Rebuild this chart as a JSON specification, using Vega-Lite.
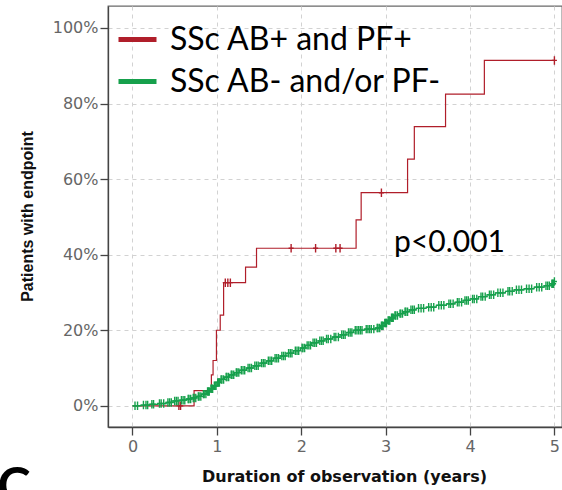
{
  "$schema": "https://vega.github.io/schema/vega-lite/v6.json",
  "width": 454,
  "height": 421,
  "autosize": {"type": "none"},
  "padding": {"left": 108, "top": 6, "right": 0, "bottom": 63},
  "background": "white",
  "config": {
    "view": {"stroke": "#6a6a6a", "strokeWidth": 1.3},
    "axis": {
      "grid": true, "gridColor": "#d2d2d2", "gridDash": [4, 4], "gridWidth": 1,
      "domainColor": "#444", "domainWidth": 1.3, "tickColor": "#444", "tickWidth": 1.3,
      "labelFont": "DejaVu Sans", "labelFontSize": 16, "labelColor": "#666",
      "titleFont": "Liberation Sans", "titleFontSize": 16, "titleFontWeight": "bold", "titleColor": "#111"
    }
  },
  "datasets": {
    "km": [
      {"group": "SSc AB+ and PF+", "years": 0, "pct": 0, "censored": 0},
      {"group": "SSc AB+ and PF+", "years": 0.55, "pct": 0, "censored": 1},
      {"group": "SSc AB+ and PF+", "years": 0.57, "pct": 0, "censored": 1},
      {"group": "SSc AB+ and PF+", "years": 0.73, "pct": 4.0, "censored": 0},
      {"group": "SSc AB+ and PF+", "years": 0.935, "pct": 8.2, "censored": 0},
      {"group": "SSc AB+ and PF+", "years": 0.955, "pct": 12.0, "censored": 0},
      {"group": "SSc AB+ and PF+", "years": 0.995, "pct": 20.0, "censored": 0},
      {"group": "SSc AB+ and PF+", "years": 1.04, "pct": 24.0, "censored": 0},
      {"group": "SSc AB+ and PF+", "years": 1.08, "pct": 32.6, "censored": 0},
      {"group": "SSc AB+ and PF+", "years": 1.10, "pct": 32.6, "censored": 1},
      {"group": "SSc AB+ and PF+", "years": 1.13, "pct": 32.6, "censored": 1},
      {"group": "SSc AB+ and PF+", "years": 1.16, "pct": 32.6, "censored": 1},
      {"group": "SSc AB+ and PF+", "years": 1.34, "pct": 36.7, "censored": 0},
      {"group": "SSc AB+ and PF+", "years": 1.47, "pct": 41.7, "censored": 0},
      {"group": "SSc AB+ and PF+", "years": 1.88, "pct": 41.7, "censored": 1},
      {"group": "SSc AB+ and PF+", "years": 2.17, "pct": 41.7, "censored": 1},
      {"group": "SSc AB+ and PF+", "years": 2.41, "pct": 41.7, "censored": 1},
      {"group": "SSc AB+ and PF+", "years": 2.46, "pct": 41.7, "censored": 1},
      {"group": "SSc AB+ and PF+", "years": 2.65, "pct": 49.2, "censored": 0},
      {"group": "SSc AB+ and PF+", "years": 2.71, "pct": 56.4, "censored": 0},
      {"group": "SSc AB+ and PF+", "years": 2.95, "pct": 56.4, "censored": 1},
      {"group": "SSc AB+ and PF+", "years": 3.26, "pct": 65.3, "censored": 0},
      {"group": "SSc AB+ and PF+", "years": 3.34, "pct": 73.9, "censored": 0},
      {"group": "SSc AB+ and PF+", "years": 3.71, "pct": 82.5, "censored": 0},
      {"group": "SSc AB+ and PF+", "years": 4.17, "pct": 91.4, "censored": 0},
      {"group": "SSc AB+ and PF+", "years": 5.0, "pct": 91.4, "censored": 1},

      {"group": "SSc AB- and/or PF-", "years": 0, "pct": 0, "censored": 0},
      {"group": "SSc AB- and/or PF-", "years": 0.03, "pct": 0, "censored": 1},
      {"group": "SSc AB- and/or PF-", "years": 0.06, "pct": 0, "censored": 1},
      {"group": "SSc AB- and/or PF-", "years": 0.10, "pct": 0.2, "censored": 0},
      {"group": "SSc AB- and/or PF-", "years": 0.13, "pct": 0.2, "censored": 1},
      {"group": "SSc AB- and/or PF-", "years": 0.16, "pct": 0.2, "censored": 1},
      {"group": "SSc AB- and/or PF-", "years": 0.18, "pct": 0.2, "censored": 1},
      {"group": "SSc AB- and/or PF-", "years": 0.20, "pct": 0.4, "censored": 0},
      {"group": "SSc AB- and/or PF-", "years": 0.23, "pct": 0.4, "censored": 1},
      {"group": "SSc AB- and/or PF-", "years": 0.25, "pct": 0.4, "censored": 1},
      {"group": "SSc AB- and/or PF-", "years": 0.30, "pct": 0.6, "censored": 0},
      {"group": "SSc AB- and/or PF-", "years": 0.32, "pct": 0.6, "censored": 1},
      {"group": "SSc AB- and/or PF-", "years": 0.34, "pct": 0.6, "censored": 1},
      {"group": "SSc AB- and/or PF-", "years": 0.37, "pct": 0.6, "censored": 1},
      {"group": "SSc AB- and/or PF-", "years": 0.40, "pct": 0.9, "censored": 0},
      {"group": "SSc AB- and/or PF-", "years": 0.42, "pct": 0.9, "censored": 1},
      {"group": "SSc AB- and/or PF-", "years": 0.44, "pct": 0.9, "censored": 1},
      {"group": "SSc AB- and/or PF-", "years": 0.46, "pct": 0.9, "censored": 1},
      {"group": "SSc AB- and/or PF-", "years": 0.48, "pct": 1.3, "censored": 0},
      {"group": "SSc AB- and/or PF-", "years": 0.50, "pct": 1.3, "censored": 1},
      {"group": "SSc AB- and/or PF-", "years": 0.52, "pct": 1.3, "censored": 1},
      {"group": "SSc AB- and/or PF-", "years": 0.54, "pct": 1.3, "censored": 1},
      {"group": "SSc AB- and/or PF-", "years": 0.56, "pct": 1.5, "censored": 0},
      {"group": "SSc AB- and/or PF-", "years": 0.58, "pct": 1.5, "censored": 1},
      {"group": "SSc AB- and/or PF-", "years": 0.60, "pct": 1.5, "censored": 1},
      {"group": "SSc AB- and/or PF-", "years": 0.62, "pct": 1.5, "censored": 1},
      {"group": "SSc AB- and/or PF-", "years": 0.64, "pct": 1.8, "censored": 0},
      {"group": "SSc AB- and/or PF-", "years": 0.66, "pct": 1.8, "censored": 1},
      {"group": "SSc AB- and/or PF-", "years": 0.67, "pct": 1.8, "censored": 1},
      {"group": "SSc AB- and/or PF-", "years": 0.69, "pct": 1.8, "censored": 1},
      {"group": "SSc AB- and/or PF-", "years": 0.70, "pct": 2.1, "censored": 0},
      {"group": "SSc AB- and/or PF-", "years": 0.72, "pct": 2.1, "censored": 1},
      {"group": "SSc AB- and/or PF-", "years": 0.73, "pct": 2.1, "censored": 1},
      {"group": "SSc AB- and/or PF-", "years": 0.75, "pct": 2.1, "censored": 1},
      {"group": "SSc AB- and/or PF-", "years": 0.76, "pct": 2.5, "censored": 0},
      {"group": "SSc AB- and/or PF-", "years": 0.78, "pct": 2.5, "censored": 1},
      {"group": "SSc AB- and/or PF-", "years": 0.79, "pct": 2.5, "censored": 1},
      {"group": "SSc AB- and/or PF-", "years": 0.81, "pct": 2.5, "censored": 1},
      {"group": "SSc AB- and/or PF-", "years": 0.82, "pct": 3.1, "censored": 0},
      {"group": "SSc AB- and/or PF-", "years": 0.84, "pct": 3.1, "censored": 1},
      {"group": "SSc AB- and/or PF-", "years": 0.85, "pct": 3.1, "censored": 1},
      {"group": "SSc AB- and/or PF-", "years": 0.87, "pct": 3.1, "censored": 1},
      {"group": "SSc AB- and/or PF-", "years": 0.88, "pct": 3.8, "censored": 0},
      {"group": "SSc AB- and/or PF-", "years": 0.89, "pct": 3.8, "censored": 1},
      {"group": "SSc AB- and/or PF-", "years": 0.90, "pct": 3.8, "censored": 1},
      {"group": "SSc AB- and/or PF-", "years": 0.91, "pct": 3.8, "censored": 1},
      {"group": "SSc AB- and/or PF-", "years": 0.92, "pct": 4.5, "censored": 0},
      {"group": "SSc AB- and/or PF-", "years": 0.93, "pct": 4.5, "censored": 1},
      {"group": "SSc AB- and/or PF-", "years": 0.94, "pct": 4.5, "censored": 1},
      {"group": "SSc AB- and/or PF-", "years": 0.95, "pct": 4.5, "censored": 1},
      {"group": "SSc AB- and/or PF-", "years": 0.96, "pct": 5.3, "censored": 0},
      {"group": "SSc AB- and/or PF-", "years": 0.97, "pct": 5.3, "censored": 1},
      {"group": "SSc AB- and/or PF-", "years": 0.98, "pct": 5.3, "censored": 1},
      {"group": "SSc AB- and/or PF-", "years": 0.99, "pct": 5.3, "censored": 1},
      {"group": "SSc AB- and/or PF-", "years": 1.00, "pct": 6.2, "censored": 0},
      {"group": "SSc AB- and/or PF-", "years": 1.01, "pct": 6.2, "censored": 1},
      {"group": "SSc AB- and/or PF-", "years": 1.02, "pct": 6.2, "censored": 1},
      {"group": "SSc AB- and/or PF-", "years": 1.03, "pct": 6.2, "censored": 1},
      {"group": "SSc AB- and/or PF-", "years": 1.04, "pct": 7.0, "censored": 0},
      {"group": "SSc AB- and/or PF-", "years": 1.05, "pct": 7.0, "censored": 1},
      {"group": "SSc AB- and/or PF-", "years": 1.06, "pct": 7.0, "censored": 1},
      {"group": "SSc AB- and/or PF-", "years": 1.08, "pct": 7.0, "censored": 1},
      {"group": "SSc AB- and/or PF-", "years": 1.09, "pct": 7.6, "censored": 0},
      {"group": "SSc AB- and/or PF-", "years": 1.11, "pct": 7.6, "censored": 1},
      {"group": "SSc AB- and/or PF-", "years": 1.12, "pct": 7.6, "censored": 1},
      {"group": "SSc AB- and/or PF-", "years": 1.14, "pct": 7.6, "censored": 1},
      {"group": "SSc AB- and/or PF-", "years": 1.15, "pct": 8.2, "censored": 0},
      {"group": "SSc AB- and/or PF-", "years": 1.17, "pct": 8.2, "censored": 1},
      {"group": "SSc AB- and/or PF-", "years": 1.18, "pct": 8.2, "censored": 1},
      {"group": "SSc AB- and/or PF-", "years": 1.20, "pct": 8.2, "censored": 1},
      {"group": "SSc AB- and/or PF-", "years": 1.21, "pct": 8.8, "censored": 0},
      {"group": "SSc AB- and/or PF-", "years": 1.23, "pct": 8.8, "censored": 1},
      {"group": "SSc AB- and/or PF-", "years": 1.24, "pct": 8.8, "censored": 1},
      {"group": "SSc AB- and/or PF-", "years": 1.26, "pct": 8.8, "censored": 1},
      {"group": "SSc AB- and/or PF-", "years": 1.27, "pct": 9.4, "censored": 0},
      {"group": "SSc AB- and/or PF-", "years": 1.29, "pct": 9.4, "censored": 1},
      {"group": "SSc AB- and/or PF-", "years": 1.31, "pct": 9.4, "censored": 1},
      {"group": "SSc AB- and/or PF-", "years": 1.33, "pct": 9.4, "censored": 1},
      {"group": "SSc AB- and/or PF-", "years": 1.35, "pct": 10.0, "censored": 0},
      {"group": "SSc AB- and/or PF-", "years": 1.37, "pct": 10.0, "censored": 1},
      {"group": "SSc AB- and/or PF-", "years": 1.39, "pct": 10.0, "censored": 1},
      {"group": "SSc AB- and/or PF-", "years": 1.41, "pct": 10.0, "censored": 1},
      {"group": "SSc AB- and/or PF-", "years": 1.43, "pct": 10.6, "censored": 0},
      {"group": "SSc AB- and/or PF-", "years": 1.45, "pct": 10.6, "censored": 1},
      {"group": "SSc AB- and/or PF-", "years": 1.47, "pct": 10.6, "censored": 1},
      {"group": "SSc AB- and/or PF-", "years": 1.49, "pct": 10.6, "censored": 1},
      {"group": "SSc AB- and/or PF-", "years": 1.51, "pct": 11.3, "censored": 0},
      {"group": "SSc AB- and/or PF-", "years": 1.53, "pct": 11.3, "censored": 1},
      {"group": "SSc AB- and/or PF-", "years": 1.55, "pct": 11.3, "censored": 1},
      {"group": "SSc AB- and/or PF-", "years": 1.57, "pct": 11.3, "censored": 1},
      {"group": "SSc AB- and/or PF-", "years": 1.59, "pct": 11.9, "censored": 0},
      {"group": "SSc AB- and/or PF-", "years": 1.61, "pct": 11.9, "censored": 1},
      {"group": "SSc AB- and/or PF-", "years": 1.63, "pct": 11.9, "censored": 1},
      {"group": "SSc AB- and/or PF-", "years": 1.65, "pct": 11.9, "censored": 1},
      {"group": "SSc AB- and/or PF-", "years": 1.67, "pct": 12.6, "censored": 0},
      {"group": "SSc AB- and/or PF-", "years": 1.69, "pct": 12.6, "censored": 1},
      {"group": "SSc AB- and/or PF-", "years": 1.71, "pct": 12.6, "censored": 1},
      {"group": "SSc AB- and/or PF-", "years": 1.73, "pct": 12.6, "censored": 1},
      {"group": "SSc AB- and/or PF-", "years": 1.75, "pct": 13.2, "censored": 0},
      {"group": "SSc AB- and/or PF-", "years": 1.77, "pct": 13.2, "censored": 1},
      {"group": "SSc AB- and/or PF-", "years": 1.79, "pct": 13.2, "censored": 1},
      {"group": "SSc AB- and/or PF-", "years": 1.81, "pct": 13.2, "censored": 1},
      {"group": "SSc AB- and/or PF-", "years": 1.83, "pct": 13.9, "censored": 0},
      {"group": "SSc AB- and/or PF-", "years": 1.85, "pct": 13.9, "censored": 1},
      {"group": "SSc AB- and/or PF-", "years": 1.87, "pct": 13.9, "censored": 1},
      {"group": "SSc AB- and/or PF-", "years": 1.89, "pct": 13.9, "censored": 1},
      {"group": "SSc AB- and/or PF-", "years": 1.91, "pct": 14.6, "censored": 0},
      {"group": "SSc AB- and/or PF-", "years": 1.93, "pct": 14.6, "censored": 1},
      {"group": "SSc AB- and/or PF-", "years": 1.95, "pct": 14.6, "censored": 1},
      {"group": "SSc AB- and/or PF-", "years": 1.97, "pct": 14.6, "censored": 1},
      {"group": "SSc AB- and/or PF-", "years": 1.99, "pct": 15.3, "censored": 0},
      {"group": "SSc AB- and/or PF-", "years": 2.01, "pct": 15.3, "censored": 1},
      {"group": "SSc AB- and/or PF-", "years": 2.02, "pct": 15.3, "censored": 1},
      {"group": "SSc AB- and/or PF-", "years": 2.04, "pct": 15.3, "censored": 1},
      {"group": "SSc AB- and/or PF-", "years": 2.05, "pct": 16.0, "censored": 0},
      {"group": "SSc AB- and/or PF-", "years": 2.07, "pct": 16.0, "censored": 1},
      {"group": "SSc AB- and/or PF-", "years": 2.09, "pct": 16.0, "censored": 1},
      {"group": "SSc AB- and/or PF-", "years": 2.11, "pct": 16.0, "censored": 1},
      {"group": "SSc AB- and/or PF-", "years": 2.12, "pct": 16.7, "censored": 0},
      {"group": "SSc AB- and/or PF-", "years": 2.14, "pct": 16.7, "censored": 1},
      {"group": "SSc AB- and/or PF-", "years": 2.16, "pct": 16.7, "censored": 1},
      {"group": "SSc AB- and/or PF-", "years": 2.18, "pct": 16.7, "censored": 1},
      {"group": "SSc AB- and/or PF-", "years": 2.20, "pct": 17.2, "censored": 0},
      {"group": "SSc AB- and/or PF-", "years": 2.22, "pct": 17.2, "censored": 1},
      {"group": "SSc AB- and/or PF-", "years": 2.24, "pct": 17.2, "censored": 1},
      {"group": "SSc AB- and/or PF-", "years": 2.26, "pct": 17.2, "censored": 1},
      {"group": "SSc AB- and/or PF-", "years": 2.28, "pct": 17.7, "censored": 0},
      {"group": "SSc AB- and/or PF-", "years": 2.30, "pct": 17.7, "censored": 1},
      {"group": "SSc AB- and/or PF-", "years": 2.32, "pct": 17.7, "censored": 1},
      {"group": "SSc AB- and/or PF-", "years": 2.35, "pct": 17.7, "censored": 1},
      {"group": "SSc AB- and/or PF-", "years": 2.37, "pct": 18.2, "censored": 0},
      {"group": "SSc AB- and/or PF-", "years": 2.39, "pct": 18.2, "censored": 1},
      {"group": "SSc AB- and/or PF-", "years": 2.41, "pct": 18.2, "censored": 1},
      {"group": "SSc AB- and/or PF-", "years": 2.44, "pct": 18.2, "censored": 1},
      {"group": "SSc AB- and/or PF-", "years": 2.46, "pct": 18.8, "censored": 0},
      {"group": "SSc AB- and/or PF-", "years": 2.48, "pct": 18.8, "censored": 1},
      {"group": "SSc AB- and/or PF-", "years": 2.50, "pct": 18.8, "censored": 1},
      {"group": "SSc AB- and/or PF-", "years": 2.52, "pct": 18.8, "censored": 1},
      {"group": "SSc AB- and/or PF-", "years": 2.54, "pct": 19.4, "censored": 0},
      {"group": "SSc AB- and/or PF-", "years": 2.56, "pct": 19.4, "censored": 1},
      {"group": "SSc AB- and/or PF-", "years": 2.58, "pct": 19.4, "censored": 1},
      {"group": "SSc AB- and/or PF-", "years": 2.60, "pct": 19.4, "censored": 1},
      {"group": "SSc AB- and/or PF-", "years": 2.62, "pct": 20.0, "censored": 0},
      {"group": "SSc AB- and/or PF-", "years": 2.64, "pct": 20.0, "censored": 1},
      {"group": "SSc AB- and/or PF-", "years": 2.66, "pct": 20.0, "censored": 1},
      {"group": "SSc AB- and/or PF-", "years": 2.68, "pct": 20.0, "censored": 1},
      {"group": "SSc AB- and/or PF-", "years": 2.70, "pct": 20.0, "censored": 1},
      {"group": "SSc AB- and/or PF-", "years": 2.72, "pct": 20.0, "censored": 1},
      {"group": "SSc AB- and/or PF-", "years": 2.75, "pct": 20.3, "censored": 0},
      {"group": "SSc AB- and/or PF-", "years": 2.77, "pct": 20.3, "censored": 1},
      {"group": "SSc AB- and/or PF-", "years": 2.79, "pct": 20.3, "censored": 1},
      {"group": "SSc AB- and/or PF-", "years": 2.81, "pct": 20.3, "censored": 1},
      {"group": "SSc AB- and/or PF-", "years": 2.83, "pct": 20.3, "censored": 1},
      {"group": "SSc AB- and/or PF-", "years": 2.86, "pct": 20.3, "censored": 1},
      {"group": "SSc AB- and/or PF-", "years": 2.88, "pct": 20.6, "censored": 0},
      {"group": "SSc AB- and/or PF-", "years": 2.90, "pct": 20.6, "censored": 1},
      {"group": "SSc AB- and/or PF-", "years": 2.91, "pct": 20.6, "censored": 1},
      {"group": "SSc AB- and/or PF-", "years": 2.93, "pct": 20.6, "censored": 1},
      {"group": "SSc AB- and/or PF-", "years": 2.94, "pct": 21.2, "censored": 0},
      {"group": "SSc AB- and/or PF-", "years": 2.95, "pct": 21.2, "censored": 1},
      {"group": "SSc AB- and/or PF-", "years": 2.96, "pct": 21.2, "censored": 1},
      {"group": "SSc AB- and/or PF-", "years": 2.97, "pct": 21.2, "censored": 1},
      {"group": "SSc AB- and/or PF-", "years": 2.98, "pct": 21.9, "censored": 0},
      {"group": "SSc AB- and/or PF-", "years": 2.99, "pct": 21.9, "censored": 1},
      {"group": "SSc AB- and/or PF-", "years": 3.00, "pct": 21.9, "censored": 1},
      {"group": "SSc AB- and/or PF-", "years": 3.01, "pct": 21.9, "censored": 1},
      {"group": "SSc AB- and/or PF-", "years": 3.02, "pct": 22.6, "censored": 0},
      {"group": "SSc AB- and/or PF-", "years": 3.03, "pct": 22.6, "censored": 1},
      {"group": "SSc AB- and/or PF-", "years": 3.04, "pct": 22.6, "censored": 1},
      {"group": "SSc AB- and/or PF-", "years": 3.05, "pct": 22.6, "censored": 1},
      {"group": "SSc AB- and/or PF-", "years": 3.06, "pct": 23.3, "censored": 0},
      {"group": "SSc AB- and/or PF-", "years": 3.07, "pct": 23.3, "censored": 1},
      {"group": "SSc AB- and/or PF-", "years": 3.08, "pct": 23.3, "censored": 1},
      {"group": "SSc AB- and/or PF-", "years": 3.09, "pct": 23.3, "censored": 1},
      {"group": "SSc AB- and/or PF-", "years": 3.10, "pct": 23.9, "censored": 0},
      {"group": "SSc AB- and/or PF-", "years": 3.11, "pct": 23.9, "censored": 1},
      {"group": "SSc AB- and/or PF-", "years": 3.12, "pct": 23.9, "censored": 1},
      {"group": "SSc AB- and/or PF-", "years": 3.14, "pct": 23.9, "censored": 1},
      {"group": "SSc AB- and/or PF-", "years": 3.15, "pct": 24.4, "censored": 0},
      {"group": "SSc AB- and/or PF-", "years": 3.17, "pct": 24.4, "censored": 1},
      {"group": "SSc AB- and/or PF-", "years": 3.18, "pct": 24.4, "censored": 1},
      {"group": "SSc AB- and/or PF-", "years": 3.20, "pct": 24.4, "censored": 1},
      {"group": "SSc AB- and/or PF-", "years": 3.21, "pct": 24.9, "censored": 0},
      {"group": "SSc AB- and/or PF-", "years": 3.23, "pct": 24.9, "censored": 1},
      {"group": "SSc AB- and/or PF-", "years": 3.24, "pct": 24.9, "censored": 1},
      {"group": "SSc AB- and/or PF-", "years": 3.26, "pct": 24.9, "censored": 1},
      {"group": "SSc AB- and/or PF-", "years": 3.28, "pct": 25.4, "censored": 0},
      {"group": "SSc AB- and/or PF-", "years": 3.30, "pct": 25.4, "censored": 1},
      {"group": "SSc AB- and/or PF-", "years": 3.32, "pct": 25.4, "censored": 1},
      {"group": "SSc AB- and/or PF-", "years": 3.34, "pct": 25.4, "censored": 1},
      {"group": "SSc AB- and/or PF-", "years": 3.36, "pct": 25.8, "censored": 0},
      {"group": "SSc AB- and/or PF-", "years": 3.39, "pct": 25.8, "censored": 1},
      {"group": "SSc AB- and/or PF-", "years": 3.42, "pct": 25.8, "censored": 1},
      {"group": "SSc AB- and/or PF-", "years": 3.45, "pct": 25.8, "censored": 1},
      {"group": "SSc AB- and/or PF-", "years": 3.48, "pct": 26.1, "censored": 0},
      {"group": "SSc AB- and/or PF-", "years": 3.51, "pct": 26.1, "censored": 1},
      {"group": "SSc AB- and/or PF-", "years": 3.54, "pct": 26.1, "censored": 1},
      {"group": "SSc AB- and/or PF-", "years": 3.57, "pct": 26.1, "censored": 1},
      {"group": "SSc AB- and/or PF-", "years": 3.60, "pct": 26.6, "censored": 0},
      {"group": "SSc AB- and/or PF-", "years": 3.63, "pct": 26.6, "censored": 1},
      {"group": "SSc AB- and/or PF-", "years": 3.66, "pct": 26.6, "censored": 1},
      {"group": "SSc AB- and/or PF-", "years": 3.69, "pct": 26.6, "censored": 1},
      {"group": "SSc AB- and/or PF-", "years": 3.72, "pct": 27.0, "censored": 0},
      {"group": "SSc AB- and/or PF-", "years": 3.75, "pct": 27.0, "censored": 1},
      {"group": "SSc AB- and/or PF-", "years": 3.77, "pct": 27.0, "censored": 1},
      {"group": "SSc AB- and/or PF-", "years": 3.80, "pct": 27.0, "censored": 1},
      {"group": "SSc AB- and/or PF-", "years": 3.82, "pct": 27.4, "censored": 0},
      {"group": "SSc AB- and/or PF-", "years": 3.85, "pct": 27.4, "censored": 1},
      {"group": "SSc AB- and/or PF-", "years": 3.87, "pct": 27.4, "censored": 1},
      {"group": "SSc AB- and/or PF-", "years": 3.90, "pct": 27.4, "censored": 1},
      {"group": "SSc AB- and/or PF-", "years": 3.92, "pct": 27.9, "censored": 0},
      {"group": "SSc AB- and/or PF-", "years": 3.94, "pct": 27.9, "censored": 1},
      {"group": "SSc AB- and/or PF-", "years": 3.96, "pct": 27.9, "censored": 1},
      {"group": "SSc AB- and/or PF-", "years": 3.98, "pct": 27.9, "censored": 1},
      {"group": "SSc AB- and/or PF-", "years": 4.00, "pct": 28.3, "censored": 0},
      {"group": "SSc AB- and/or PF-", "years": 4.03, "pct": 28.3, "censored": 1},
      {"group": "SSc AB- and/or PF-", "years": 4.05, "pct": 28.3, "censored": 1},
      {"group": "SSc AB- and/or PF-", "years": 4.08, "pct": 28.3, "censored": 1},
      {"group": "SSc AB- and/or PF-", "years": 4.10, "pct": 28.9, "censored": 0},
      {"group": "SSc AB- and/or PF-", "years": 4.13, "pct": 28.9, "censored": 1},
      {"group": "SSc AB- and/or PF-", "years": 4.15, "pct": 28.9, "censored": 1},
      {"group": "SSc AB- and/or PF-", "years": 4.18, "pct": 28.9, "censored": 1},
      {"group": "SSc AB- and/or PF-", "years": 4.20, "pct": 29.4, "censored": 0},
      {"group": "SSc AB- and/or PF-", "years": 4.23, "pct": 29.4, "censored": 1},
      {"group": "SSc AB- and/or PF-", "years": 4.25, "pct": 29.4, "censored": 1},
      {"group": "SSc AB- and/or PF-", "years": 4.28, "pct": 29.4, "censored": 1},
      {"group": "SSc AB- and/or PF-", "years": 4.30, "pct": 29.9, "censored": 0},
      {"group": "SSc AB- and/or PF-", "years": 4.33, "pct": 29.9, "censored": 1},
      {"group": "SSc AB- and/or PF-", "years": 4.36, "pct": 29.9, "censored": 1},
      {"group": "SSc AB- and/or PF-", "years": 4.39, "pct": 29.9, "censored": 1},
      {"group": "SSc AB- and/or PF-", "years": 4.42, "pct": 30.3, "censored": 0},
      {"group": "SSc AB- and/or PF-", "years": 4.45, "pct": 30.3, "censored": 1},
      {"group": "SSc AB- and/or PF-", "years": 4.47, "pct": 30.3, "censored": 1},
      {"group": "SSc AB- and/or PF-", "years": 4.50, "pct": 30.3, "censored": 1},
      {"group": "SSc AB- and/or PF-", "years": 4.52, "pct": 30.7, "censored": 0},
      {"group": "SSc AB- and/or PF-", "years": 4.55, "pct": 30.7, "censored": 1},
      {"group": "SSc AB- and/or PF-", "years": 4.58, "pct": 30.7, "censored": 1},
      {"group": "SSc AB- and/or PF-", "years": 4.61, "pct": 30.7, "censored": 1},
      {"group": "SSc AB- and/or PF-", "years": 4.64, "pct": 31.0, "censored": 0},
      {"group": "SSc AB- and/or PF-", "years": 4.67, "pct": 31.0, "censored": 1},
      {"group": "SSc AB- and/or PF-", "years": 4.70, "pct": 31.0, "censored": 1},
      {"group": "SSc AB- and/or PF-", "years": 4.73, "pct": 31.0, "censored": 1},
      {"group": "SSc AB- and/or PF-", "years": 4.76, "pct": 31.4, "censored": 0},
      {"group": "SSc AB- and/or PF-", "years": 4.79, "pct": 31.4, "censored": 1},
      {"group": "SSc AB- and/or PF-", "years": 4.82, "pct": 31.4, "censored": 1},
      {"group": "SSc AB- and/or PF-", "years": 4.85, "pct": 31.4, "censored": 1},
      {"group": "SSc AB- and/or PF-", "years": 4.88, "pct": 31.8, "censored": 0},
      {"group": "SSc AB- and/or PF-", "years": 4.90, "pct": 31.8, "censored": 1},
      {"group": "SSc AB- and/or PF-", "years": 4.92, "pct": 31.8, "censored": 1},
      {"group": "SSc AB- and/or PF-", "years": 4.94, "pct": 31.8, "censored": 1},
      {"group": "SSc AB- and/or PF-", "years": 4.96, "pct": 32.3, "censored": 0},
      {"group": "SSc AB- and/or PF-", "years": 4.97, "pct": 32.3, "censored": 1},
      {"group": "SSc AB- and/or PF-", "years": 4.98, "pct": 32.3, "censored": 1},
      {"group": "SSc AB- and/or PF-", "years": 4.99, "pct": 32.3, "censored": 1},
      {"group": "SSc AB- and/or PF-", "years": 5.00, "pct": 32.9, "censored": 0},
      {"group": "SSc AB- and/or PF-", "years": 5.00, "pct": 32.9, "censored": 1}
    ],
    "notes": [
      {"years": 3.1, "pct": 40.8, "label": "p<0.001", "kind": "p"},
      {"years": -1.6, "pct": -25.7, "label": "C", "kind": "panel"}
    ]
  },
  "layer": [
    {
      "data": {"name": "km"},
      "mark": {"type": "line", "interpolate": "step-after", "strokeWidth": 1.2},
      "encoding": {
        "x": {
          "field": "years", "type": "quantitative",
          "scale": {"domain": [-0.29, 5.09], "nice": false, "zero": false},
          "axis": {"values": [0, 1, 2, 3, 4, 5], "format": "d", "title": "Duration of observation (years)", "titleFont": "DejaVu Sans", "tickSize": 8, "labelPadding": 3, "titleX": 236, "titleY": 54, "titleBaseline": "alphabetic"}
        },
        "y": {
          "field": "pct", "type": "quantitative",
          "scale": {"domain": [-5.6, 105.8], "nice": false, "zero": false},
          "axis": {"values": [0, 20, 40, 60, 80, 100], "labelExpr": "datum.value + '%'", "title": "Patients with endpoint", "tickSize": 8, "labelPadding": 2, "titleX": -76, "titleY": 210, "titleBaseline": "alphabetic", "titleAngle": -90}
        },
        "color": {
          "field": "group", "type": "nominal",
          "scale": {"domain": ["SSc AB+ and PF+", "SSc AB- and/or PF-"], "range": ["#b01e2a", "#16a04c"]},
          "legend": {"title": null, "orient": "none", "legendX": 8, "legendY": 12, "symbolType": "stroke", "symbolSize": 1444, "symbolStrokeWidth": 5, "labelFont": "Lato", "labelFontSize": 32, "labelColor": "#000", "labelOffset": 11, "rowPadding": 4, "padding": 0, "labelLimit": 400}
        }
      }
    },
    {
      "data": {"name": "km"},
      "transform": [{"filter": "datum.censored == 1"}],
      "mark": {"type": "point", "shape": "M0,-1L0,1M-0.6,0L0.6,0", "filled": false, "strokeWidth": 1.4, "size": 72, "opacity": 1},
      "encoding": {
        "x": {"field": "years", "type": "quantitative"},
        "y": {"field": "pct", "type": "quantitative"},
        "color": {"field": "group", "type": "nominal"}
      }
    },
    {
      "data": {"name": "notes"},
      "transform": [{"filter": "datum.kind == 'p'"}],
      "mark": {"type": "text", "align": "left", "baseline": "alphabetic", "font": "Lato", "fontSize": 30, "color": "#000"},
      "encoding": {
        "x": {"field": "years", "type": "quantitative"},
        "y": {"field": "pct", "type": "quantitative"},
        "text": {"field": "label"}
      }
    },
    {
      "data": {"name": "notes"},
      "transform": [{"filter": "datum.kind == 'panel'"}],
      "mark": {"type": "text", "align": "left", "baseline": "alphabetic", "font": "Lato", "fontWeight": "bold", "fontSize": 50, "color": "#000"},
      "encoding": {
        "x": {"field": "years", "type": "quantitative"},
        "y": {"field": "pct", "type": "quantitative"},
        "text": {"field": "label"}
      }
    }
  ]
}
